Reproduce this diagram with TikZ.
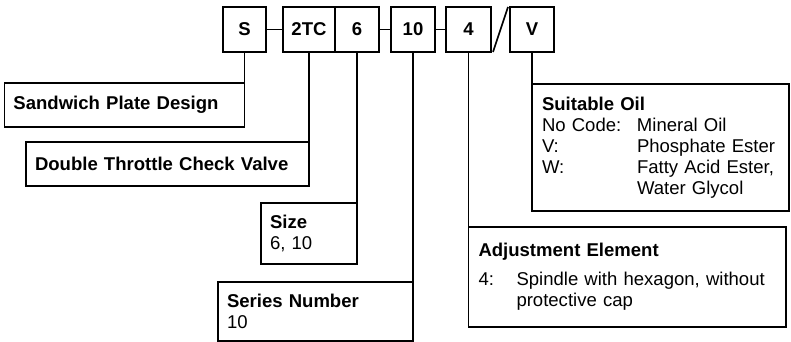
\documentclass[tikz,border=0pt]{standalone}
\usepackage{fontspec}
\setmainfont{Liberation Sans}
\usetikzlibrary{positioning}

\tikzset{
  codebox/.style={draw, line width=1.2pt, minimum height=33.75pt, inner sep=0pt, outer sep=0pt,
    font=\fontsize{13.9}{15.75}\selectfont\bfseries},
  descbox/.style={draw, line width=1.2pt, align=left, inner xsep=6.75pt, inner ysep=0pt, outer sep=0pt},
  hanger/.style={line width=1.2pt}
}

\begin{document}
\begin{tikzpicture}[x=0.75pt, y=-0.75pt, font=\fontsize{13.9}{15.75}\selectfont]
\useasboundingbox (0,0) rectangle (791,342);
%Order code
\node[codebox, minimum width=32.25pt] (cS) at (244.5,29.5) {S};
\node[codebox, minimum width=39pt] (cTC) at (309,29.5) {2TC};
\node[codebox, minimum width=33pt, right=0pt of cTC] (cSize) {6};
\node[codebox, minimum width=33pt] (cSeries) at (413,29.5) {10};
\node[codebox, minimum width=33.75pt] (cAdj) at (468.5,29.5) {4};
\node[codebox, minimum width=33pt] (cOil) at (532,29.5) {V};

\draw[hanger] (cS) -- (cTC);
\draw[hanger] (cSize) -- (cSeries);
\draw[hanger] (cSeries) -- (cAdj);
\draw[hanger] ([xshift=1.5pt]cAdj.south east) -- ([xshift=-1.5pt]cOil.north west);

%Left descriptions
\node[descbox, anchor=north east, text width=166.5pt, minimum height=33pt] (dS) at (cS.south |- 0,83)
  {\textbf{Sandwich Plate Design}};
\node[descbox, anchor=north east, text width=198.75pt, minimum height=33pt] (dTC) at (cTC.south |- 0,142)
  {\textbf{Double Throttle Check Valve}};
\node[descbox, anchor=north east, text width=58.5pt, minimum height=45.75pt] (dSize) at (cSize.south |- 0,203)
  {\textbf{Size}\\6, 10};
\node[descbox, anchor=north east, text width=132.75pt, minimum height=44.25pt] (dSeries) at (cSeries.south |- 0,282)
  {\textbf{Series Number}\\10};

%Right descriptions
\node[descbox, anchor=north west, inner xsep=7.5pt, text width=223pt, minimum height=75pt] (dAdj) at (cAdj.south |- 0,227)
  {\textbf{Adjustment Element}\\[6pt]
   \makebox[28.5pt][l]{4:}Spindle with hexagon, without\\
   \hspace*{28.5pt}protective cap};
\node[descbox, anchor=north west, inner xsep=7.5pt, text width=177.75pt, minimum height=95.25pt] (dOil) at (cOil.south |- 0,84)
  {\textbf{Suitable Oil}\\
   \makebox[71.25pt][l]{No Code:}Mineral Oil\\
   \makebox[71.25pt][l]{V:}Phosphate Ester\\
   \makebox[71.25pt][l]{W:}Fatty Acid Ester,\\
   \hspace*{71.25pt}Water Glycol};

\draw[hanger] (cS) -- (dS.north east);
\draw[hanger] (cTC) -- (dTC.north east);
\draw[hanger] (cSize) -- (dSize.north east);
\draw[hanger] (cSeries) -- (dSeries.north east);
\draw[hanger] (cAdj) -- (dAdj.north west);
\draw[hanger] (cOil) -- (dOil.north west);
\end{tikzpicture}
\end{document}
